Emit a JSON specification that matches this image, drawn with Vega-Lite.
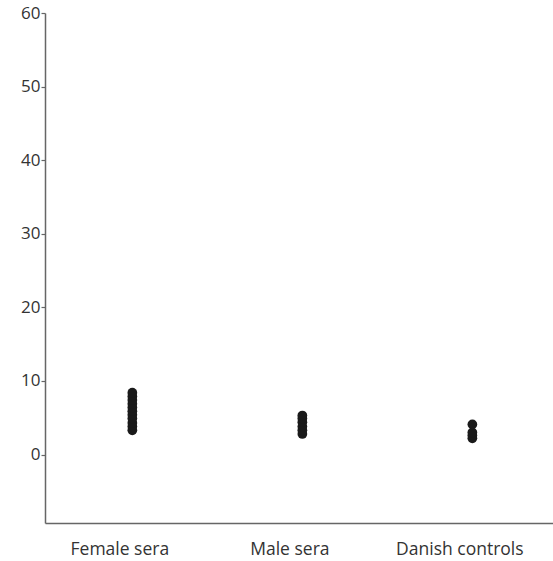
{
  "$schema": "https://vega.github.io/schema/vega-lite/v6.json",
  "autosize": "none",
  "width": 508,
  "height": 510,
  "padding": {"left": 45, "top": 13, "right": 0, "bottom": 38},
  "background": "white",
  "config": {"view": {"stroke": null}},
  "data": {"values": [
    {"group": "Female sera", "value": 3.3},
    {"group": "Female sera", "value": 3.8},
    {"group": "Female sera", "value": 4.3},
    {"group": "Female sera", "value": 4.9},
    {"group": "Female sera", "value": 5.4},
    {"group": "Female sera", "value": 5.9},
    {"group": "Female sera", "value": 6.4},
    {"group": "Female sera", "value": 6.9},
    {"group": "Female sera", "value": 7.4},
    {"group": "Female sera", "value": 7.9},
    {"group": "Female sera", "value": 8.4},
    {"group": "Male sera", "value": 2.8},
    {"group": "Male sera", "value": 3.3},
    {"group": "Male sera", "value": 3.8},
    {"group": "Male sera", "value": 4.4},
    {"group": "Male sera", "value": 4.9},
    {"group": "Male sera", "value": 5.3},
    {"group": "Danish controls", "value": 2.2},
    {"group": "Danish controls", "value": 2.6},
    {"group": "Danish controls", "value": 3.0},
    {"group": "Danish controls", "value": 4.1}
  ]},
  "mark": {"type": "circle", "size": 95, "color": "#1a1a1a", "opacity": 1},
  "encoding": {
    "x": {
      "field": "group",
      "type": "nominal",
      "sort": ["Female sera", "Male sera", "Danish controls"],
      "scale": {"type": "point", "padding": 0.494, "align": 0.52},
      "axis": {
        "title": null,
        "labelAngle": 0,
        "labelFont": "Open Sans",
        "labelFontSize": 17.5,
        "labelColor": "#333",
        "labelPadding": 17,
        "labelOffset": -13,
        "ticks": false,
        "domainColor": "#666",
        "domainWidth": 1.5,
        "grid": false
      }
    },
    "y": {
      "field": "value",
      "type": "quantitative",
      "scale": {"domain": [-9.3, 60], "nice": false, "zero": false},
      "axis": {
        "title": null,
        "values": [0, 10, 20, 30, 40, 50, 60],
        "labelFont": "Open Sans",
        "labelFontSize": 17,
        "labelColor": "#333",
        "labelPadding": 1,
        "tickSize": 4,
        "tickColor": "#666",
        "tickWidth": 1.2,
        "domainColor": "#666",
        "domainWidth": 1.5,
        "grid": false
      }
    }
  }
}
